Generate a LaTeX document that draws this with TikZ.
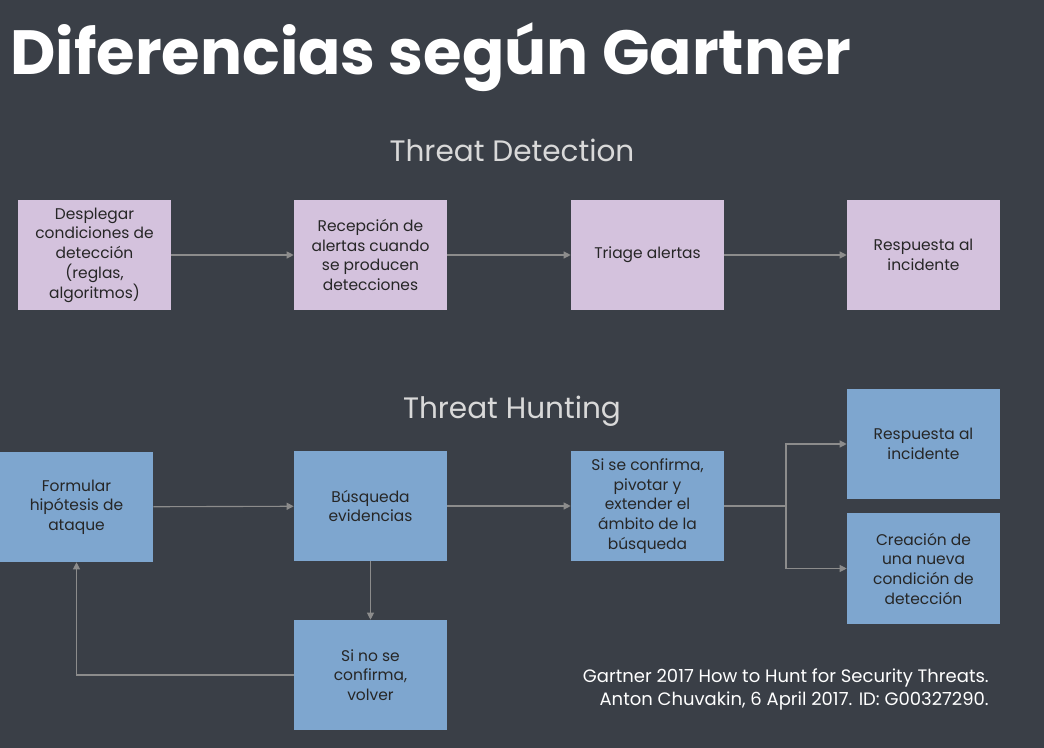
\documentclass[tikz,border=0pt]{standalone}
\usepackage{fontspec}
\setmainfont{Poppins}
\usetikzlibrary{positioning,arrows.meta}
\definecolor{slate}{HTML}{3A3F47}
\definecolor{lilac}{HTML}{D4C2DD}
\definecolor{steel}{HTML}{7EA6CF}
\definecolor{wire}{HTML}{8C8C8C}
\definecolor{pale}{HTML}{D9D9D9}
\definecolor{ink}{HTML}{262626}

\begin{document}
\begin{tikzpicture}[
    x=0.025cm, y=-0.025cm,
    detbox/.style={fill=lilac, minimum width=3.825cm, minimum height=2.75cm, font=\fontsize{11}{14}\selectfont, align=center, text=ink, inner sep=2pt},
    huntbox/.style={detbox, fill=steel},
    flow/.style={-{Triangle[length=5pt,width=5pt]}, wire, line width=0.8pt},
    heading/.style={font=\fontsize{21}{25}\selectfont, text=pale}
]

\fill[slate] (0,0) rectangle (1044,748);
\useasboundingbox (0,0) rectangle (1044,748);

\node[anchor=base west, inner sep=0, text=white, font=\fontsize{44.4}{48}\selectfont\bfseries] (title) at (10,75) {Diferencias según Gartner};

\node[heading] (dethead) at (512,150) {Threat Detection};
\node[heading] (hunthead) at (512,411) {Threat Hunting};

\node[detbox] (deploy) at (94.5,255) {Desplegar\\condiciones de\\detección\\(reglas,\\algoritmos)};
\node[detbox] (receive) at (370.5,255) {Recepción de\\alertas cuando\\se producen\\detecciones};
\node[detbox] (triage) at (647.5,255) {Triage alertas};
\node[detbox] (respond) at (923.5,255) {Respuesta al\\incidente};

\node[huntbox] (hypo) at (76.5,507) {Formular\\hipótesis de\\ataque};
\node[huntbox] (search) at (370.5,506) {Búsqueda\\evidencias};
\node[huntbox] (pivot) at (647.5,506) {Si se confirma,\\pivotar y\\extender el\\ámbito de la\\búsqueda};
\node[huntbox] (hresp) at (923.5,444) {Respuesta al\\incidente};
\node[huntbox] (newrule) at (923.5,568.5) {Creación de\\una nueva\\condición de\\detección};
\node[huntbox] (retry) at (370.5,675) {Si no se\\confirma,\\volver};
\coordinate (fork) at (786,506);

\node[anchor=north east, align=right, inner sep=0, text=white, font=\fontsize{12.8}{16.5}\selectfont] (cite) at (989,668) {Gartner 2017 How to Hunt for Security Threats.\\Anton Chuvakin, 6 April 2017. ID: G00327290.};

\draw[flow] (deploy) -- (receive);
\draw[flow] (receive) -- (triage);
\draw[flow] (triage) -- (respond);

\draw[flow] (hypo) -- (search);
\draw[flow] (search) -- (pivot);
\draw[flow] (pivot.east) -- (fork) |- (hresp.west);
\draw[flow] (fork) |- (newrule.west);
\draw[flow] (search) -- (retry);
\draw[flow] (retry.west) -| (hypo.south);

\end{tikzpicture}
\end{document}
